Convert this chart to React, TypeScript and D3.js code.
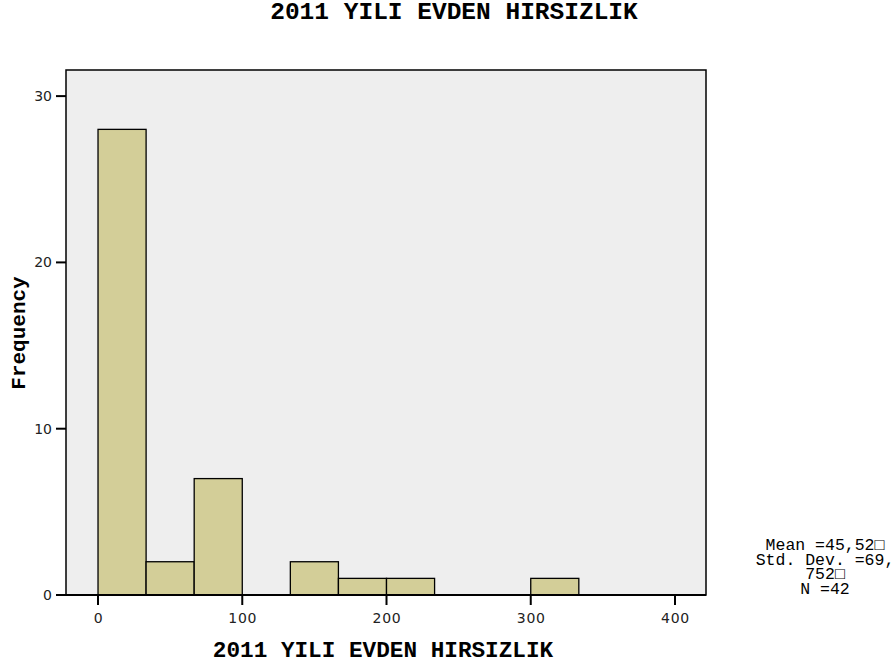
import React from 'react';
import * as d3 from 'd3';

const title = '2011 YILI EVDEN HIRSIZLIK';
const xLabel = '2011 YILI EVDEN HIRSIZLIK';
const yLabel = 'Frequency';

// histogram bins (width 100/3) and counts
const binStarts = [0, 33.33, 66.67, 100, 133.33, 166.67, 200, 233.33, 266.67, 300];
const binWidth = 33.333;
const counts = [28, 2, 7, 0, 2, 1, 1, 0, 0, 1];

const xTicks = [0, 100, 200, 300, 400];
const yTicks = [0, 10, 20, 30];
const statsLines = ['Mean =45,52\u25A1', 'Std. Dev. =69,', '752\u25A1', 'N =42'];

const W = 895;
const H = 664;
const plot = { left: 66, right: 706, top: 70, bottom: 595 };

const App: React.FC = () => {
  const x = d3.scaleLinear().domain([-22.2, 421.5]).range([plot.left, plot.right]);
  const y = d3.scaleLinear().domain([0, 31.57]).range([plot.bottom, plot.top]);

  const mono = '"Liberation Mono", "Courier New", monospace';
  const sans = '"DejaVu Sans", sans-serif';

  return (
    <svg width={W} height={H} style={{ position: 'absolute', left: 0, top: 0 }}>
      <rect width={W} height={H} fill="#ffffff" />
      <text x={454} y={19} textAnchor="middle" fontFamily={mono} fontWeight="bold" fontSize={24.5}>
        {title}
      </text>

      {/* plot area */}
      <rect
        x={plot.left}
        y={plot.top}
        width={plot.right - plot.left}
        height={plot.bottom - plot.top}
        fill="#eeeeee"
        stroke="#000"
        strokeWidth={1.5}
      />

      {counts.map((c, i) =>
        c > 0 ? (
          <rect
            key={i}
            x={x(binStarts[i])}
            y={y(c)}
            width={x(binStarts[i] + binWidth) - x(binStarts[i])}
            height={y(0) - y(c)}
            fill="#d3ce98"
            stroke="#000"
            strokeWidth={1.3}
          />
        ) : null
      )}

      {/* y axis ticks */}
      {yTicks.map((t) => (
        <g key={t}>
          <line x1={plot.left - 10} x2={plot.left} y1={y(t)} y2={y(t)} stroke="#000" strokeWidth={2} />
          <text x={plot.left - 14} y={y(t) + 5} textAnchor="end" fontFamily={sans} fontSize={14} fill="#222">
            {t}
          </text>
        </g>
      ))}

      {/* x axis ticks */}
      {xTicks.map((t) => (
        <g key={t}>
          <line x1={x(t)} x2={x(t)} y1={plot.bottom} y2={plot.bottom + 10} stroke="#000" strokeWidth={2} />
          <text
            x={x(t) + 0.5}
            y={plot.bottom + 28}
            textAnchor="middle"
            fontFamily={sans}
            fontSize={14}
            letterSpacing={0.8}
            fill="#222"
          >
            {t}
          </text>
        </g>
      ))}
      <line x1={plot.left} x2={plot.right} y1={plot.bottom} y2={plot.bottom} stroke="#000" strokeWidth={2} />

      <text x={383} y={657} textAnchor="middle" fontFamily={mono} fontWeight="bold" fontSize={22.7}>
        {xLabel}
      </text>
      <text
        transform={`translate(25,${333}) rotate(-90)`}
        textAnchor="middle"
        fontFamily={mono}
        fontWeight="bold"
        fontSize={21}
      >
        {yLabel}
      </text>

      {statsLines.map((s, i) => (
        <text key={i} x={825} y={550 + i * 14.7} textAnchor="middle" fontFamily={mono} fontSize={16.5}>
          {s}
        </text>
      ))}
    </svg>
  );
};

export default App;
